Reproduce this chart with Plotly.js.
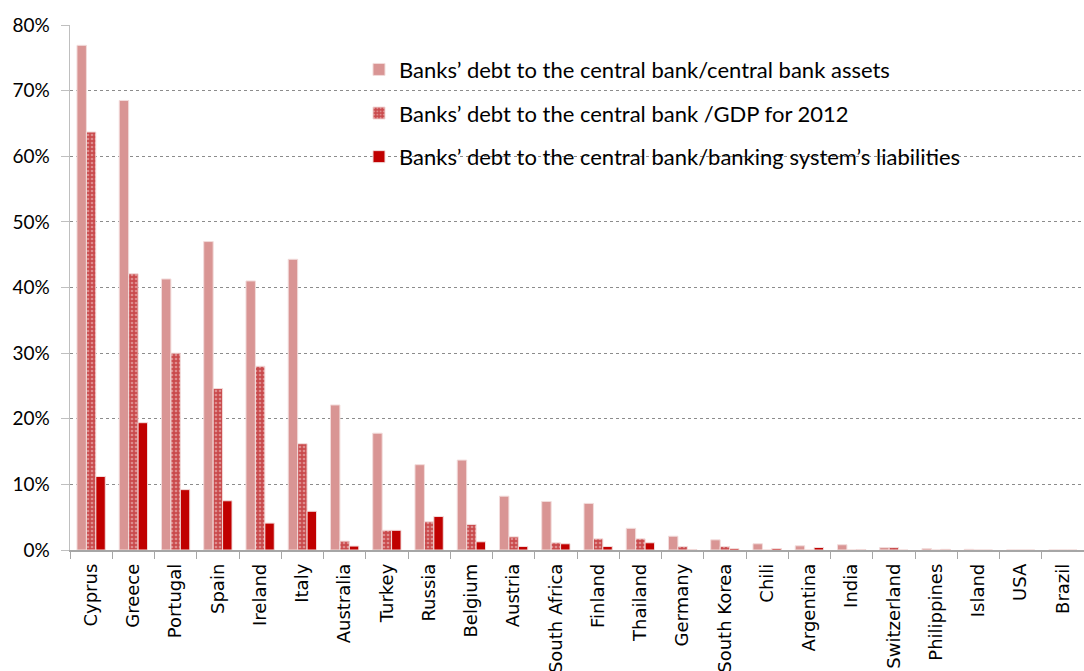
<!DOCTYPE html>
<html>
<head>
<meta charset="utf-8">
<script src="https://cdn.plot.ly/plotly-3.0.1.min.js"></script>
<style>html,body{margin:0;padding:0;background:#fff;}#chart{width:1084px;height:671px;}</style>
</head>
<body>
<div id="chart"></div>
<script>
const countries = ["Cyprus","Greece","Portugal","Spain","Ireland","Italy","Australia","Turkey","Russia","Belgium","Austria","South Africa","Finland","Thailand","Germany","South Korea","Chili","Argentina","India","Switzerland","Philippines","Island","USA","Brazil"];
const assetsShare = [76.9,68.5,41.3,47.0,41.0,44.3,22.1,17.8,13.0,13.7,8.2,7.4,7.1,3.3,2.1,1.55,0.95,0.64,0.8,0.38,0.23,0.1,0,0];
const gdpShare = [63.7,42.1,30.0,24.6,28.0,16.2,1.35,3.0,4.3,3.9,2.0,1.1,1.7,1.7,0.53,0.53,0,0,0,0.38,0,0,0,0];
const liabShare = [11.2,19.4,9.2,7.5,4.1,5.9,0.6,3.0,5.1,1.25,0.53,0.95,0.53,1.1,0.08,0.23,0.23,0.38,0.08,0,0.1,0,0,0];
const seriesNames = ["Banks’ debt to the central bank/central bank assets","Banks’ debt to the central bank /GDP for 2012","Banks’ debt to the central bank/banking system’s liabilities"];
const yTicks = [0,10,20,30,40,50,60,70,80];

const traces = [
  {type:'bar', name:seriesNames[0], legendgroup:'a', x:countries, y:assetsShare,
   marker:{color:'#d99594', line:{color:'#f2dcdb', width:1}}},
  {type:'bar', name:seriesNames[1], legendgroup:'b', x:countries, y:gdpShare,
   marker:{color:'#c94a4c', line:{color:'#f2dcdb', width:1},
     pattern:{shape:'.', fillmode:'overlay', fgcolor:'#f4d0d0', size:4, solidity:0.35}}},
  {type:'bar', name:seriesNames[2], legendgroup:'c', x:countries, y:liabShare,
   marker:{color:'#c00000', line:{color:'#f2dcdb', width:1}}}
];

const layout = {
  width:1084, height:671,
  margin:{l:70, r:0, t:25, b:121},
  paper_bgcolor:'#fff', plot_bgcolor:'#fff',
  barmode:'group', bargap:0.33, bargroupgap:0,
  font:{family:'Lato, "Open Sans", sans-serif', color:'#000'},
  xaxis:{type:'category', range:[-0.5,23.5], tickangle:-90,
    tickfont:{family:'"DejaVu Sans", sans-serif', size:18, color:'#000'},
    ticklabelstandoff:5,
    showline:true, linecolor:'#a6a6a6', linewidth:1.5,
    ticks:'outside', tickson:'boundaries', ticklen:7, tickcolor:'#a6a6a6',
    showgrid:false, fixedrange:true},
  yaxis:{range:[0,80], tickvals:yTicks, ticktext:yTicks.map(v=>v+'%'),
    tickfont:{family:'Lato, sans-serif', size:19, color:'#000'},
    ticklabelstandoff:7,
    showline:true, linecolor:'#bfbfbf', linewidth:1.5,
    ticks:'outside', ticklen:8, tickcolor:'#bfbfbf',
    showgrid:true, gridcolor:'#8c8c8c', gridwidth:1, griddash:'dot',
    zeroline:false, fixedrange:true},
  legend:{x:0.285, y:0.955, xanchor:'left', yanchor:'top',
    font:{family:'Lato, sans-serif', size:22, color:'#000'},
    bgcolor:'rgba(0,0,0,0)', tracegroupgap:12, itemwidth:30,
    traceorder:'grouped'},
  showlegend:true
};

Plotly.newPlot('chart', traces, layout, {displayModeBar:false, staticPlot:true});
</script>
</body>
</html>
